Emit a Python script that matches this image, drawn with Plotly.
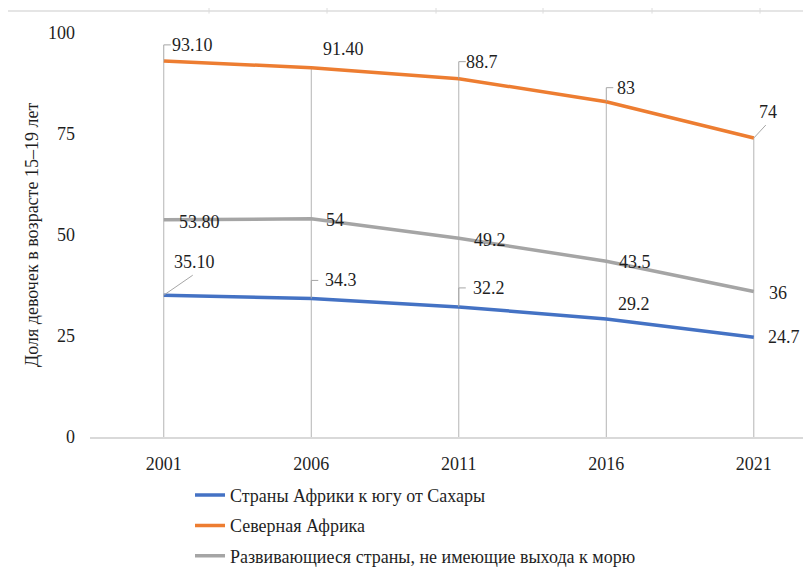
import plotly.graph_objects as go

# -------------------------
# Data
# -------------------------
years = ["2001", "2006", "2011", "2016", "2021"]

ssa = [35.1, 34.3, 32.2, 29.2, 24.7]        # Страны Африки к югу от Сахары
north = [93.1, 91.4, 88.7, 83, 74]          # Северная Африка
lldc = [53.8, 54, 49.2, 43.5, 36]           # Развивающиеся страны без выхода к морю

ssa_text = ["35.10", "34.3", "32.2", "29.2", "24.7"]
north_text = ["93.10", "91.40", "88.7", "83", "74"]
lldc_text = ["53.80", "54", "49.2", "43.5", "36"]

names = [
    "Страны Африки к югу от Сахары",
    "Северная Африка",
    "Развивающиеся страны, не имеющие выхода к морю",
]
y_ticks = [0, 25, 50, 75, 100]
y_title = "Доля девочек в возрасте 15–19 лет"

# -------------------------
# Styling
# -------------------------
colors = ["#4472C4", "#ED7D31", "#A5A5A5"]
FONT = "Liberation Serif, Times New Roman, serif"
TXT = "#1f1f1f"
LEAD = "#a6a6a6"
FS = 18

# label offsets in pixels (dx right, dy down) and leader style
offsets = [
    [(31, -33), (30, -18), (30, -19), (28, -15), (30, 0)],
    [(29, -16), (32, -19), (23, -17), (20, -14), (14, -26)],
    [(36, 2), (24, 1), (31, 2), (29, 1), (24, 1)],
]
leaders = [
    ["diag", "elbow", "elbow", None, None],
    ["elbow", None, "elbow", "elbow", "diag"],
    [None, None, None, None, None],
]

PX_X = 147.5          # pixels per category
PX_Y = 404 / 100      # pixels per y unit
L, T, PW = 82, 25, 720

series = [ssa, north, lldc]
texts = [ssa_text, north_text, lldc_text]
xs = list(range(len(years)))

fig = go.Figure()

# drop lines (from axis up to the highest series)
tops = [max(v) for v in zip(*series)]
dx_, dy_ = [], []
for i, t in zip(xs, tops):
    dx_ += [i, i, None]
    dy_ += [0, t, None]
fig.add_trace(go.Scatter(x=dx_, y=dy_, mode="lines", line=dict(color="#b4b4b4", width=1),
                         showlegend=False, hoverinfo="skip"))

# series
for vals, name, col in zip(series, names, colors):
    fig.add_trace(go.Scatter(x=xs, y=vals, name=name, mode="lines",
                             line=dict(color=col, width=3.5), legendgroup=name))

# leader lines
lx, ly = [], []
for vals, offs, leads in zip(series, offsets, leaders):
    for i, v, (ox, oy), kind in zip(xs, vals, offs, leads):
        if kind == "elbow":
            top = v - oy / PX_Y
            lx += [i, i, i + 7 / PX_X, None]
            ly += [v, top, top, None]
        elif kind == "diag":
            lx += [i, i + (ox - 2) / PX_X, None]
            ly += [v, v - (oy + 13) / PX_Y, None]
fig.add_trace(go.Scatter(x=lx, y=ly, mode="lines", line=dict(color=LEAD, width=1),
                         showlegend=False, hoverinfo="skip"))

# data labels
for vals, labs, offs in zip(series, texts, offsets):
    for i, v, lab, (ox, oy) in zip(xs, vals, labs, offs):
        fig.add_annotation(x=i, y=v, text=lab, showarrow=False, xshift=ox, yshift=-oy,
                           font=dict(family=FONT, size=FS, color=TXT))

# y axis title
fig.add_annotation(xref="paper", yref="paper", x=0, y=0.5, xshift=-58, text=y_title,
                   textangle=-90, showarrow=False, xanchor="center", yanchor="middle",
                   font=dict(family=FONT, size=FS, color=TXT))

# thin border line at the very top (cropped frame)
fig.add_shape(type="line", xref="paper", yref="paper", x0=-0.117, x1=1.02, y0=1.0545, y1=1.0545,
              line=dict(color="#dcdcdc", width=1.5))
for px in [201, 319, 428, 535, 644, 752]:
    xp = (px - L) / PW
    fig.add_shape(type="line", xref="paper", yref="paper", x0=xp, x1=xp, y0=1.048, y1=1.062,
                  line=dict(color="#dcdcdc", width=1))

fig.update_layout(
    width=803, height=559, autosize=False,
    margin=dict(l=L, r=1, t=T, b=130, autoexpand=False),
    plot_bgcolor="white", paper_bgcolor="white",
    font=dict(family=FONT, size=FS, color=TXT),
    xaxis=dict(range=[-0.5, 4.381], tickvals=xs, ticktext=years, showgrid=False,
               zeroline=False, showline=True, linecolor="#d9d9d9", linewidth=1.5,
               ticks="", ticklabelstandoff=10, tickfont=dict(family=FONT, size=FS)),
    yaxis=dict(range=[0, 100], tickvals=y_ticks, showgrid=False, zeroline=False,
               showline=False, ticks="", ticklabelstandoff=14, tickfont=dict(family=FONT, size=FS)),
    legend=dict(x=0.1389, y=-0.0985, xanchor="left", yanchor="top", orientation="v",
                bgcolor="rgba(0,0,0,0)", tracegroupgap=4, font=dict(family=FONT, size=FS)),
    showlegend=True,
)

fig.write_html("out.html")
